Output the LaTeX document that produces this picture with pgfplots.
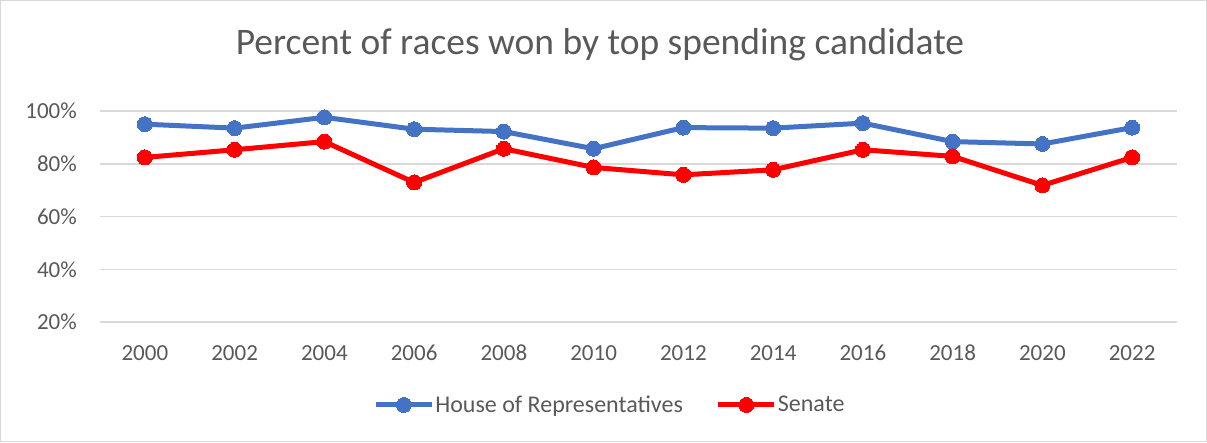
\documentclass[border=0pt]{standalone}
\usepackage{fontspec}
\setmainfont{Carlito}
\usepackage{pgfplots}
\pgfplotsset{compat=1.18}
\definecolor{houseblue}{HTML}{4472C4}
\definecolor{senred}{HTML}{FF0000}
\definecolor{txtgray}{HTML}{595959}
\definecolor{gridgray}{HTML}{D9D9D9}
\begin{document}
\begin{tikzpicture}[x=1pt,y=1pt]
\draw[gridgray, line width=1pt] (0.5,0.5) rectangle (1206.5,441.5);
\node[txtgray, font=\fontsize{37.5}{44}\selectfont] at (600,397) {Percent of races won by top spending candidate};
\begin{axis}[at={(100pt,120pt)}, anchor=south west, scale only axis,
  width=1077pt, height=211pt,
  xmin=-0.5, xmax=11.5, ymin=20, ymax=100,
  xtick={0,...,11},
  xticklabels={2000,2002,2004,2006,2008,2010,2012,2014,2016,2018,2020,2022},
  ytick={20,40,60,80,100},
  yticklabel={\pgfmathprintnumber{\tick}\%},
  /pgf/number format/assume math mode=true,
  axis line style={draw=none},
  tick style={draw=none},
  ymajorgrids, grid style={gridgray, line width=1.5pt},
  ticklabel style={font=\fontsize{23}{27}\selectfont, text=txtgray, inner sep=0pt},
  xticklabel style={anchor=center, yshift=-31pt},
  yticklabel style={anchor=east, xshift=-23pt},
  legend columns=2,
  legend style={draw=none, fill=none, at={(0.473,-0.393)}, anchor=center,
    font=\fontsize{24}{28}\selectfont, text=txtgray,
    nodes={inner sep=1pt},
    /tikz/every even column/.append style={column sep=32pt}},
  legend image code/.code={\draw[mark repeat=2, mark phase=2, #1]
    plot coordinates {(0pt,0pt) (28pt,0pt) (56pt,0pt)};},
  every axis plot/.append style={line width=5pt, mark=*, mark size=7.5pt},
]
\addplot[houseblue, mark options={fill=houseblue, draw=houseblue, line width=0pt}] coordinates {
  (0,95.0) (1,93.5) (2,97.6) (3,93.1) (4,92.2) (5,85.7)
  (6,93.7) (7,93.5) (8,95.4) (9,88.4) (10,87.5) (11,93.7)
};
\addlegendentry{House of Representatives}
\addplot[senred, mark options={fill=senred, draw=senred, line width=0pt}] coordinates {
  (0,82.4) (1,85.3) (2,88.4) (3,72.9) (4,85.7) (5,78.6)
  (6,75.8) (7,77.7) (8,85.3) (9,82.8) (10,71.8) (11,82.4)
};
\addlegendentry{Senate}
\end{axis}
\end{tikzpicture}
\end{document}
